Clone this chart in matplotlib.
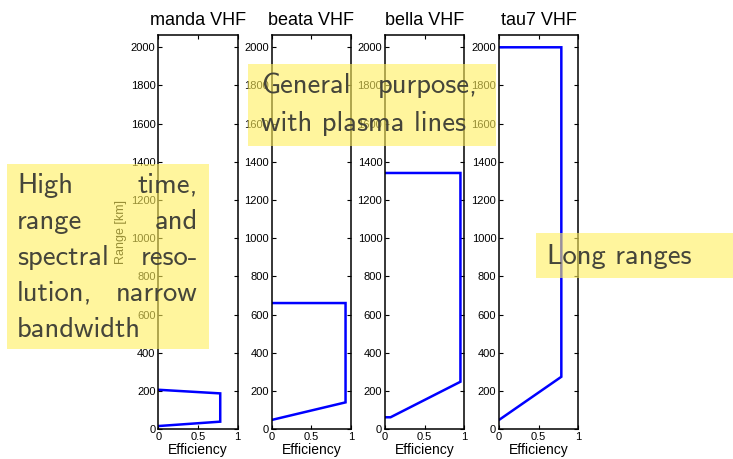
import matplotlib
matplotlib.use("Agg")
import matplotlib.pyplot as plt
from matplotlib.patches import Rectangle

W, H = 733, 459

# efficiency vs range for each radar mode
titles = ["manda VHF", "beata VHF", "bella VHF", "tau7 VHF"]
manda_eff = [0, 0.78, 0.78, 0]
manda_rng = [17, 40, 188, 207]
beata_eff = [0, 0.93, 0.93, 0]
beata_rng = [49, 141, 661, 661]
bella_eff = [0, 0.07, 0.95, 0.95, 0]
bella_rng = [63, 63, 249, 1342, 1342]
tau7_eff = [0, 0.785, 0.785, 0]
tau7_rng = [49, 275, 2000, 2000]

effs = [manda_eff, beata_eff, bella_eff, tau7_eff]
rngs = [manda_rng, beata_rng, bella_rng, tau7_rng]

yticks = list(range(0, 2001, 200))
xticks = [0, 0.5, 1]
xticklabels = ["0", "0.5", "1"]

plt.rcParams["font.family"] = ["Liberation Sans", "DejaVu Sans"]

fig = plt.figure(figsize=(W / 100, H / 100), dpi=100)

lefts = [158.3, 271.7, 385, 499]
ax_w = 79.4
ax_top = 34.5
ax_bot = 429.3

for i in range(4):
    ax = fig.add_axes([lefts[i] / W, 1 - ax_bot / H, ax_w / W, (ax_bot - ax_top) / H])
    ax.plot(effs[i], rngs[i], color="#0000ff", lw=1.8, solid_joinstyle="miter")
    ax.set_xlim(0, 1)
    ax.set_ylim(0, 2067)
    ax.set_xticks(xticks)
    ax.set_xticklabels(xticklabels)
    ax.set_yticks(yticks)
    ax.tick_params(direction="in", length=3, width=0.8, labelsize=8, pad=2,
                   top=True, right=True)
    for s in ax.spines.values():
        s.set_linewidth(1.1)
    ax.set_title(titles[i], fontsize=13, pad=7)
    ax.set_xlabel("Efficiency", fontsize=10, labelpad=1)
    if i == 0:
        ax.set_ylabel("Range [km]", fontsize=9, labelpad=3)

# semi-transparent note boxes
box_col = (1.0, 0.937, 0.36)
box_alpha = 0.6
txt_col = "#45453a"
fs = 20.6
tf = "cmss10"

def box(x0, y0, x1, y1):
    fig.add_artist(Rectangle((x0 / W, 1 - y1 / H), (x1 - x0) / W, (y1 - y0) / H,
                             transform=fig.transFigure, facecolor=box_col,
                             edgecolor="none", alpha=box_alpha, zorder=5))

def word(x, y, s, ha="left"):
    fig.text(x / W, 1 - y / H, s, ha=ha, va="baseline", fontsize=fs,
             family=tf, color=txt_col, zorder=6)

box(7, 164, 209, 349)
lines1 = [("High", "time,"), ("range", "and"), ("spectral", "reso-"),
          ("lution,", "narrow"), ("bandwidth", None)]
base1 = [193, 229, 265, 301, 337]
for (l, r), b in zip(lines1, base1):
    word(17, b, l)
    if r:
        word(198, b, r, ha="right")

box(248, 64, 496, 146)
word(261, 93, "General")
word(478, 93, "purpose,", ha="right")
word(261, 131, "with plasma lines")

box(536, 233, 733, 278)
word(547, 264, "Long ranges")

fig.savefig("out.png", dpi=100)
